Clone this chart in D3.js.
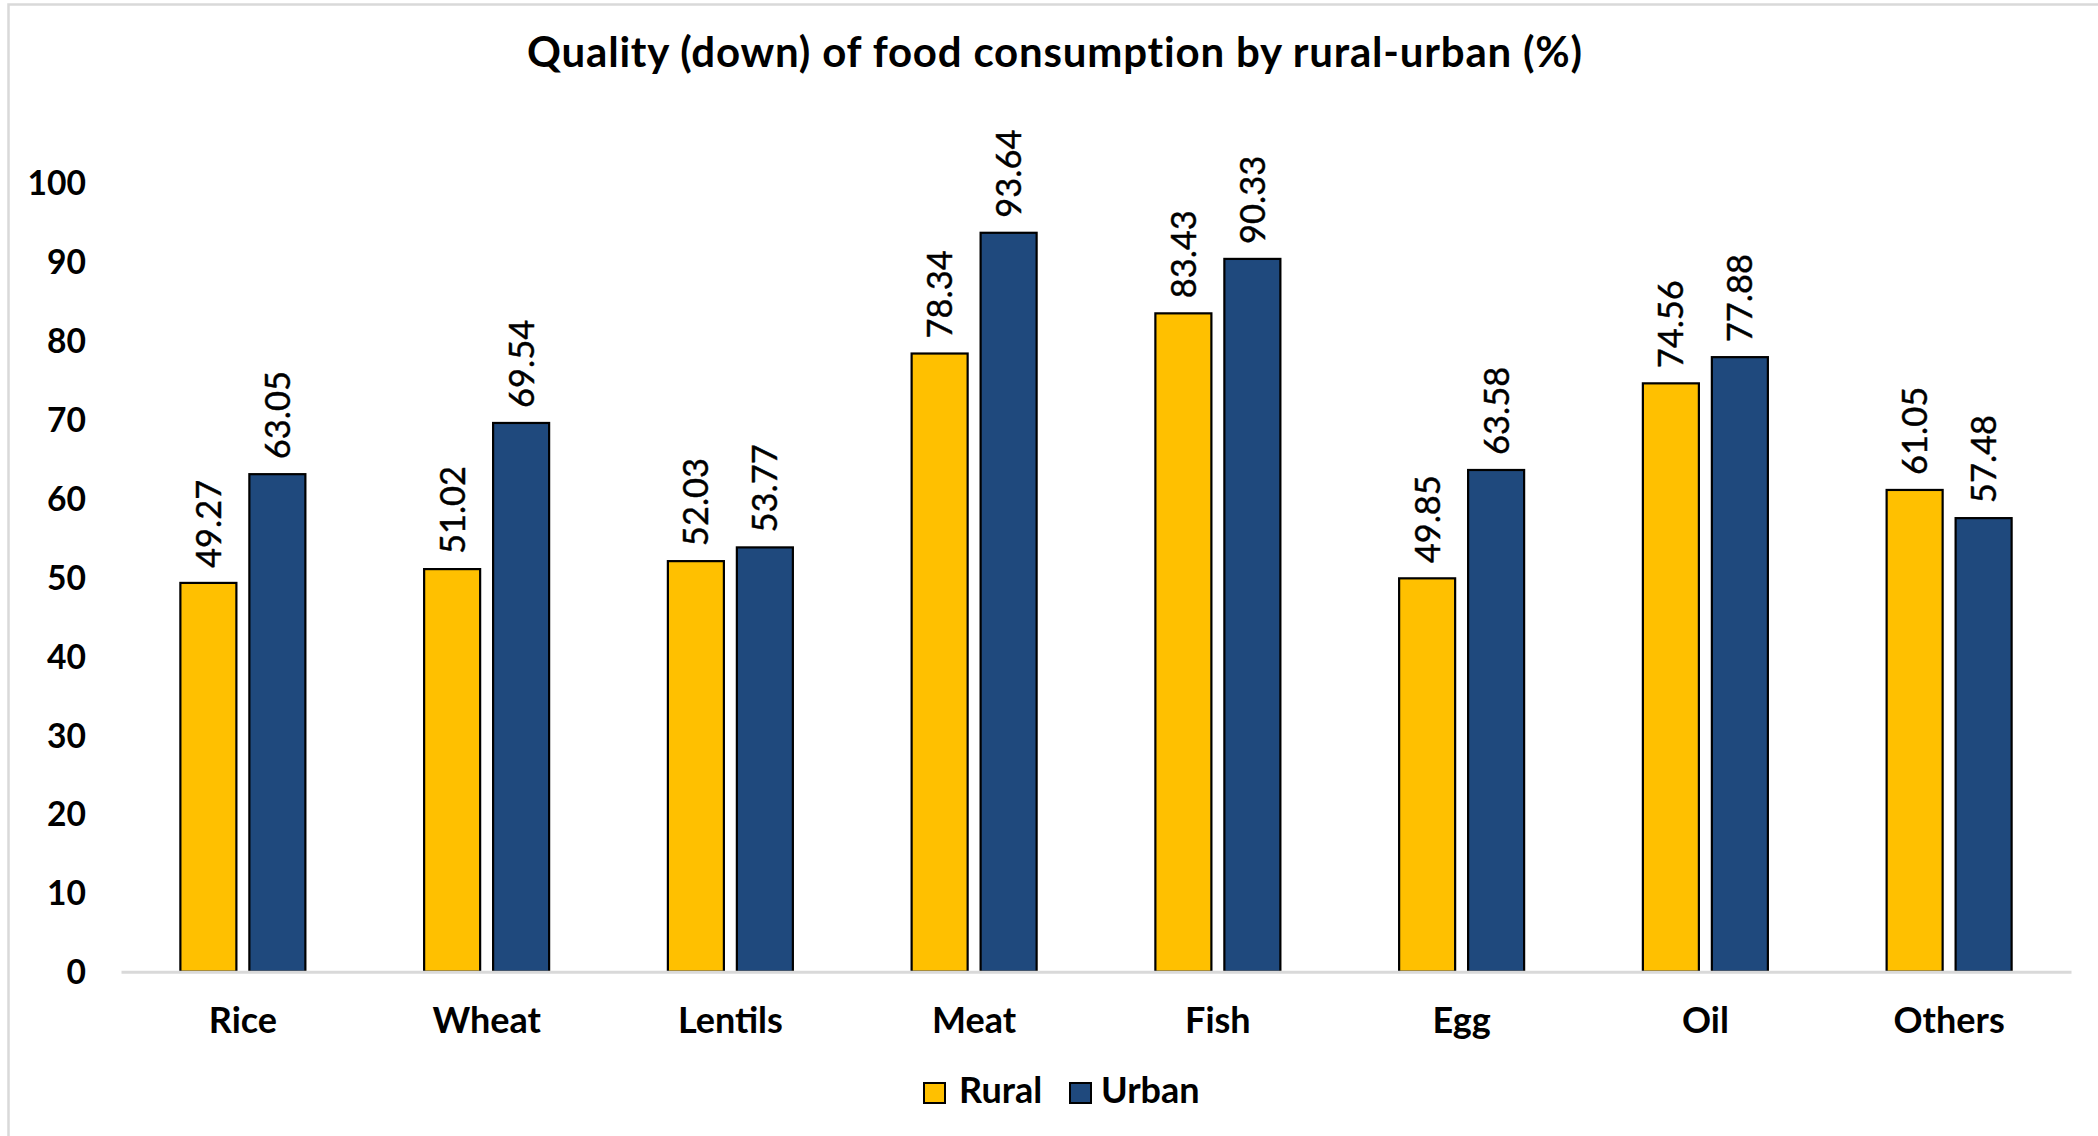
<!DOCTYPE html>
<html>
<head>
<meta charset="utf-8">
<script src="https://cdn.jsdelivr.net/npm/d3@7"></script>
<style>
  html, body { margin: 0; padding: 0; background: #ffffff; }
  svg { display: block; font-family: Lato, "Open Sans", sans-serif; }
</style>
</head>
<body>
<svg id="chart" width="2098" height="1136"></svg>
<script>
// Food groups along the x axis
const categories = ["Rice", "Wheat", "Lentils", "Meat", "Fish", "Egg", "Oil", "Others"];
// Series names and their values (%)
const seriesNames = ["Rural", "Urban"];
const ruralValues = [49.27, 51.02, 52.03, 78.34, 83.43, 49.85, 74.56, 61.05];
const urbanValues = [63.05, 69.54, 53.77, 93.64, 90.33, 63.58, 77.88, 57.48];
// Y axis tick labels
const yTicks = [0, 10, 20, 30, 40, 50, 60, 70, 80, 90, 100];
const titleText = "Quality (down) of food consumption by rural-urban (%)";

const colors = { Rural: "#FFC000", Urban: "#1F497D" };

const svg = d3.select("#chart");

// chart frame
svg.append("rect")
  .attr("x", 8.5).attr("y", 4.5)
  .attr("width", 2300).attr("height", 1300)
  .attr("fill", "#ffffff")
  .attr("stroke", "#D9D9D9")
  .attr("stroke-width", 2.5);

const rows = categories.map((c, i) => ({
  category: c,
  values: [
    { key: "Rural", value: ruralValues[i] },
    { key: "Urban", value: urbanValues[i] }
  ]
}));

const x0 = d3.scaleBand().domain(categories).range([121, 2071]).paddingInner(0).paddingOuter(0);
const x1 = d3.scaleBand().domain(seriesNames).range([-62.5, 62.5]).paddingInner(0.188).paddingOuter(0);
const y = d3.scaleLinear().domain([0, 100]).range([971.7, 182.6]);

// title
svg.append("text")
  .attr("x", 1055).attr("y", 67)
  .attr("text-anchor", "middle")
  .attr("font-size", 42)
  .attr("letter-spacing", 0.8)
  .attr("font-weight", 700)
  .attr("fill", "#000")
  .text(titleText);

// y axis labels
const yAxis = svg.append("g")
  .attr("transform", "translate(86,0)")
  .call(d3.axisLeft(y).tickValues(yTicks).tickSize(0).tickPadding(0).tickFormat(d3.format("d")));
yAxis.select(".domain").remove();
yAxis.selectAll("text")
  .attr("font-family", "Lato, 'Open Sans', sans-serif")
  .attr("font-size", 33.6)
  .attr("font-weight", 700)
  .attr("fill", "#000")
  .attr("dy", "0.36em");

// bars
const groups = svg.append("g").selectAll("g")
  .data(rows)
  .join("g")
  .attr("transform", d => `translate(${x0(d.category) + x0.bandwidth() / 2},0)`);

groups.selectAll("rect")
  .data(d => d.values)
  .join("rect")
  .attr("x", d => x1(d.key))
  .attr("width", x1.bandwidth())
  .attr("y", d => y(d.value))
  .attr("height", d => y(0) - y(d.value))
  .attr("fill", d => colors[d.key])
  .attr("stroke", "#000")
  .attr("stroke-width", 2.2);

// value labels, rotated
groups.selectAll("text.val")
  .data(d => d.values)
  .join("text")
  .attr("class", "val")
  .attr("transform", d => `translate(${x1(d.key) + x1.bandwidth() / 2},${y(d.value) - 15}) rotate(-90)`)
  .attr("text-anchor", "start")
  .attr("dy", "0.36em")
  .attr("font-size", 34.5)
  .attr("font-weight", 400)
  .attr("stroke", "#000")
  .attr("stroke-width", 0.4)
  .attr("fill", "#000")
  .text(d => d3.format(".2f")(d.value));

// x axis
const xAxis = svg.append("g")
  .attr("transform", `translate(0,${y(0)})`)
  .call(d3.axisBottom(x0).tickSize(0).tickSizeOuter(0).tickPadding(0));
xAxis.select(".domain")
  .attr("stroke", "#D9D9D9")
  .attr("stroke-width", 3);
xAxis.selectAll("text")
  .attr("font-family", "Lato, 'Open Sans', sans-serif")
  .attr("font-size", 36)
  .attr("font-weight", 700)
  .attr("fill", "#000")
  .attr("dy", null)
  .attr("y", 61);

// legend
const legendItems = [
  { key: "Rural", sx: 924, tx: 959 },
  { key: "Urban", sx: 1070, tx: 1101 }
];
const legend = svg.append("g");
legendItems.forEach(item => {
  legend.append("rect")
    .attr("x", item.sx).attr("y", 1083)
    .attr("width", 21).attr("height", 20)
    .attr("fill", colors[item.key])
    .attr("stroke", "#000")
    .attr("stroke-width", 2);
  legend.append("text")
    .attr("x", item.tx).attr("y", 1103)
    .attr("font-size", 36)
    .attr("font-weight", 700)
    .attr("fill", "#000")
    .text(item.key);
});
</script>
</body>
</html>
